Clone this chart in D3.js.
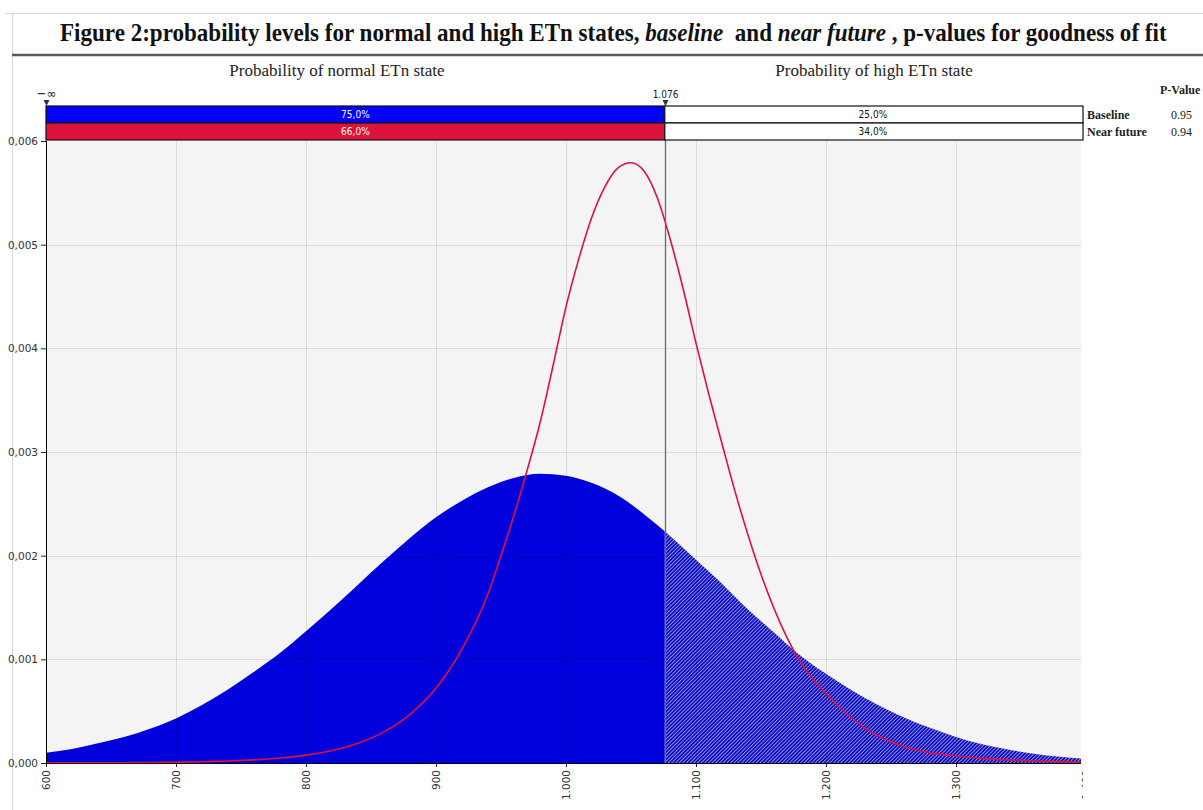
<!DOCTYPE html>
<html>
<head>
<meta charset="utf-8">
<script src="https://cdn.jsdelivr.net/npm/d3@7"></script>
<style>
  body { margin: 0; background: #fff; }
  svg { display: block; }
</style>
</head>
<body>
<svg id="svg1" width="1203" height="810"></svg>
<script>
// baseline density (filled area)
var baseX = [600, 620, 640, 660, 680, 700, 720, 740, 760, 780, 800, 820, 840, 860, 880, 900,
             920, 940, 960, 980, 1000, 1020, 1040, 1060, 1080, 1100, 1120, 1140, 1160, 1180,
             1200, 1220, 1240, 1260, 1280, 1300, 1320, 1340, 1360, 1380, 1400];
var baseY = [0.00010, 0.000135, 0.00019, 0.00025, 0.00033, 0.00043, 0.00056, 0.00071, 0.00088,
             0.00106, 0.00127, 0.00149, 0.00172, 0.00195, 0.00217, 0.00237, 0.00253, 0.00266,
             0.00275, 0.00279, 0.00277, 0.00270, 0.00258, 0.00240, 0.00219, 0.00196, 0.00173,
             0.00148, 0.00126, 0.00104, 0.00086, 0.00070, 0.00056, 0.00044, 0.00034, 0.00025,
             0.00018, 0.00013, 0.00009, 0.00006, 0.00004];

// near future density (red line)
var nearX = [600, 620, 640, 660, 680, 700, 720, 740, 760, 780, 800, 820, 840, 860, 880, 900,
             920, 940, 950, 960, 970, 980, 990, 1000, 1010, 1020, 1030, 1040, 1050, 1060, 1070,
             1080, 1090, 1100, 1110, 1120, 1130, 1140, 1150, 1160, 1170, 1180, 1200, 1220, 1240,
             1260, 1280, 1300, 1320, 1340, 1360, 1380, 1400];
var nearY = [0.000001, 0.000001, 0.000002, 0.000003, 0.000005, 0.0000075, 0.000012, 0.000019,
             0.000030, 0.000048, 0.000076, 0.00012, 0.00019, 0.00030, 0.00047, 0.00072, 0.00110,
             0.00163, 0.00200, 0.00239, 0.00282, 0.00328, 0.00383, 0.00440, 0.00487, 0.00527,
             0.00556, 0.00574, 0.00579, 0.00571, 0.00546, 0.00506, 0.00458, 0.00405, 0.00355,
             0.00308, 0.00262, 0.00220, 0.00182, 0.00149, 0.00121, 0.00098, 0.00067, 0.00043,
             0.00026, 0.00016, 0.00010, 0.000068, 0.000045, 0.000030, 0.000020, 0.000013, 0.000010];

var threshold = 1076;
var rows = ["Baseline", "Near future"];
var normalPct = [75.0, 66.0];
var highPct = [25.0, 34.0];
var pValues = ["0.95", "0.94"];
var xTicks = [600, 700, 800, 900, 1000, 1100, 1200, 1300, 1400];
var yTicks = [0, 0.001, 0.002, 0.003, 0.004, 0.005, 0.006];
var rowColors = ["#0000ff", "#dc143c"];

var plotLeft = 46, plotRight = 1081, plotTop = 141, plotBottom = 763;

var svg = d3.select('svg');

var x = d3.scaleLinear().domain([600, 1400]).range([plotLeft, 1086]);
var y = d3.scaleLinear().domain([0, 0.006]).range([plotBottom, plotTop]);
var rowBand = d3.scaleBand().domain(rows).range([106, 140]);

var fmtX = function(d) { return d3.format(",")(d).replace(",", "."); };
var fmtY = function(d) { return d3.format(".3f")(d).replace(".", ","); };

var defs = svg.append("defs");
defs.append("clipPath").attr("id", "plotClip")
    .append("rect").attr("x", plotLeft).attr("y", plotTop - 1)
    .attr("width", plotRight - plotLeft).attr("height", plotBottom - plotTop + 2);
defs.append("clipPath").attr("id", "leftClip")
    .append("rect").attr("x", plotLeft).attr("y", plotTop)
    .attr("width", x(threshold) - plotLeft).attr("height", plotBottom - plotTop);
defs.append("clipPath").attr("id", "rightClip")
    .append("rect").attr("x", x(threshold)).attr("y", plotTop)
    .attr("width", plotRight - x(threshold)).attr("height", plotBottom - plotTop);
// in the x axis group's own coordinates
defs.append("clipPath").attr("id", "axisClip")
    .append("rect").attr("x", 0).attr("y", 0)
    .attr("width", 1083).attr("height", 60);

var hatch = defs.append("pattern").attr("id", "hatch")
    .attr("patternUnits", "userSpaceOnUse")
    .attr("width", 2.6).attr("height", 2.6)
    .attr("patternTransform", "rotate(45)");
hatch.append("rect").attr("width", 2.6).attr("height", 2.6).attr("fill", "#0c0cc4");
hatch.append("rect").attr("width", 0.8).attr("height", 2.6).attr("fill", "#a4a4f0");

// frame and title
svg.append("line").attr("x1", 5).attr("x2", 1203).attr("y1", 13.5).attr("y2", 13.5)
   .attr("stroke", "#d3d8e0");
svg.append("line").attr("x1", 12.5).attr("x2", 12.5).attr("y1", 13).attr("y2", 810)
   .attr("stroke", "#d3d8e0");
svg.append("line").attr("x1", 12).attr("x2", 1203).attr("y1", 55).attr("y2", 55)
   .attr("stroke", "#5a5a5a").attr("stroke-width", 2.5);

var title = svg.append("text")
    .attr("x", 0).attr("y", 0)
    .attr("font-family", "Liberation Serif").attr("font-weight", "bold")
    .attr("font-size", 26)
    .attr("fill", "#111");
title.append("tspan").text("Figure 2:probability levels for normal and high ETn states, ");
title.append("tspan").attr("font-style", "italic").text("baseline");
title.append("tspan").text("\u00a0 and ");
title.append("tspan").attr("font-style", "italic").text("near future");
title.append("tspan").text(" , p-values for goodness of fit");
var titleW = title.node().getComputedTextLength();
title.attr("transform", "translate(60,41) scale(" + (1107 / titleW) + ",1)");

svg.append("text").attr("x", 337).attr("y", 76).attr("text-anchor", "middle")
   .attr("font-family", "Liberation Serif").attr("font-size", 17).attr("fill", "#222")
   .text("Probability of normal ETn state");
svg.append("text").attr("x", 874).attr("y", 76).attr("text-anchor", "middle")
   .attr("font-family", "Liberation Serif").attr("font-size", 17).attr("fill", "#222")
   .text("Probability of high ETn state");

// plot background and grid
svg.append("rect").attr("x", plotLeft).attr("y", plotTop)
   .attr("width", plotRight - plotLeft).attr("height", plotBottom - plotTop)
   .attr("fill", "#f4f4f4");

var baseData = baseX.map(function(d, i) { return {x: d, y: baseY[i]}; });
var nearData = nearX.map(function(d, i) { return {x: d, y: nearY[i]}; });

var area = d3.area().curve(d3.curveMonotoneX)
    .x(function(d) { return x(d.x); })
    .y0(y(0))
    .y1(function(d) { return y(d.y); });

var plot = svg.append("g").attr("clip-path", "url(#plotClip)");

plot.append("path").datum(baseData).attr("d", area)
    .attr("fill", "#0000dc").attr("clip-path", "url(#leftClip)");
plot.append("path").datum(baseData).attr("d", area)
    .attr("fill", "url(#hatch)").attr("clip-path", "url(#rightClip)");

plot.append("g").selectAll("line")
    .data(xTicks.slice(1, -1))
    .enter().append("line")
    .attr("x1", function(d) { return x(d) + 0.5; })
    .attr("x2", function(d) { return x(d) + 0.5; })
    .attr("y1", plotTop).attr("y2", plotBottom)
    .attr("stroke", "rgba(0,0,0,0.1)");
plot.append("g").selectAll("line")
    .data(yTicks.slice(1, -1))
    .enter().append("line")
    .attr("x1", plotLeft).attr("x2", plotRight)
    .attr("y1", function(d) { return Math.round(y(d)) + 0.5; })
    .attr("y2", function(d) { return Math.round(y(d)) + 0.5; })
    .attr("stroke", "rgba(0,0,0,0.1)");

var line = d3.line().curve(d3.curveMonotoneX)
    .x(function(d) { return x(d.x); })
    .y(function(d) { return y(d.y); });

plot.append("path").datum(nearData).attr("d", line)
    .attr("fill", "none").attr("stroke", "#e0103c").attr("stroke-width", 1.6);

// threshold line
svg.append("line")
   .attr("x1", Math.round(x(threshold)) + 0.5).attr("x2", Math.round(x(threshold)) + 0.5)
   .attr("y1", 100).attr("y2", plotBottom)
   .attr("stroke", "#6a6a6a").attr("stroke-width", 1.3);

// axes
var yAxis = svg.append("g")
    .attr("transform", "translate(" + plotLeft + ",0)")
    .call(d3.axisLeft(y).tickValues(yTicks).tickFormat(fmtY).tickSize(5).tickPadding(3));
var xAxis = svg.append("g")
    .attr("transform", "translate(0," + plotBottom + ")")
    .attr("clip-path", "url(#axisClip)")
    .call(d3.axisBottom(x).tickValues(xTicks).tickFormat(fmtX).tickSize(4));
xAxis.selectAll("text")
    .attr("transform", "rotate(-90)")
    .attr("text-anchor", "end")
    .attr("x", -7).attr("y", 0).attr("dy", "0.35em");

[yAxis, xAxis].forEach(function(a) {
  a.select(".domain").remove();
  a.selectAll("text").attr("font-family", "DejaVu Sans").attr("font-size", 10.5)
   .attr("fill", "#333");
  a.selectAll(".tick line").attr("stroke", "#222");
});
svg.append("line").attr("x1", plotLeft + 0.5).attr("x2", plotLeft + 0.5)
   .attr("y1", plotTop).attr("y2", plotBottom).attr("stroke", "#000");
svg.append("line").attr("x1", plotLeft).attr("x2", plotRight)
   .attr("y1", plotBottom + 0.5).attr("y2", plotBottom + 0.5).attr("stroke", "#000");

// probability bars
var barRows = svg.append("g").selectAll("g")
    .data(rows).enter().append("g");

barRows.append("rect")
    .attr("x", plotLeft).attr("y", function(d) { return rowBand(d); })
    .attr("width", x(threshold) - plotLeft).attr("height", rowBand.bandwidth())
    .attr("fill", function(d, i) { return rowColors[i]; })
    .attr("stroke", "#111").attr("stroke-width", 1.2);
barRows.append("rect")
    .attr("x", x(threshold)).attr("y", function(d) { return rowBand(d); })
    .attr("width", 1083 - x(threshold)).attr("height", rowBand.bandwidth())
    .attr("fill", "#fff")
    .attr("stroke", "#111").attr("stroke-width", 1.2);

barRows.append("text")
    .attr("x", (plotLeft + x(threshold)) / 2)
    .attr("y", function(d) { return rowBand(d) + rowBand.bandwidth() / 2; })
    .attr("dy", "0.35em").attr("text-anchor", "middle")
    .attr("font-family", "DejaVu Sans Condensed, DejaVu Sans").attr("font-size", 10)
    .attr("fill", "#fff")
    .text(function(d, i) { return normalPct[i].toFixed(1).replace(".", ",") + "%"; });
barRows.append("text")
    .attr("x", (x(threshold) + plotRight) / 2)
    .attr("y", function(d) { return rowBand(d) + rowBand.bandwidth() / 2; })
    .attr("dy", "0.35em").attr("text-anchor", "middle")
    .attr("font-family", "DejaVu Sans Condensed, DejaVu Sans").attr("font-size", 10)
    .attr("fill", "#111")
    .text(function(d, i) { return highPct[i].toFixed(1).replace(".", ",") + "%"; });

// markers above the bars
var marks = [{v: 600, label: "\u2212\u221e", size: 13}, {v: threshold, label: "1.076", size: 10}];
var markG = svg.append("g").selectAll("g").data(marks).enter().append("g")
    .attr("transform", function(d) { return "translate(" + (Math.round(x(d.v)) + 0.5) + ",0)"; });
markG.append("path").attr("d", "M-3,100L3,100L0,106Z").attr("fill", "#333");
markG.append("text").attr("y", 98).attr("text-anchor", "middle")
    .attr("font-family", "DejaVu Sans Condensed, DejaVu Sans")
    .attr("font-size", function(d) { return d.size; })
    .attr("fill", "#222")
    .text(function(d) { return d.label; });

// p-value table
svg.append("text").attr("x", 1160).attr("y", 94)
   .attr("font-family", "Liberation Serif").attr("font-weight", "bold").attr("font-size", 12)
   .attr("fill", "#222").text("P-Value");
var pRows = svg.append("g").selectAll("g").data(rows).enter().append("g");
pRows.append("text").attr("x", 1087)
   .attr("y", function(d) { return rowBand(d) + rowBand.bandwidth() / 2 + 4; })
   .attr("font-family", "Liberation Serif").attr("font-weight", "bold").attr("font-size", 12)
   .attr("fill", "#222").text(function(d) { return d; });
pRows.append("text").attr("x", 1171)
   .attr("y", function(d) { return rowBand(d) + rowBand.bandwidth() / 2 + 4; })
   .attr("font-family", "Liberation Serif").attr("font-size", 12)
   .attr("fill", "#222").text(function(d, i) { return pValues[i]; });
</script>
</body>
</html>
